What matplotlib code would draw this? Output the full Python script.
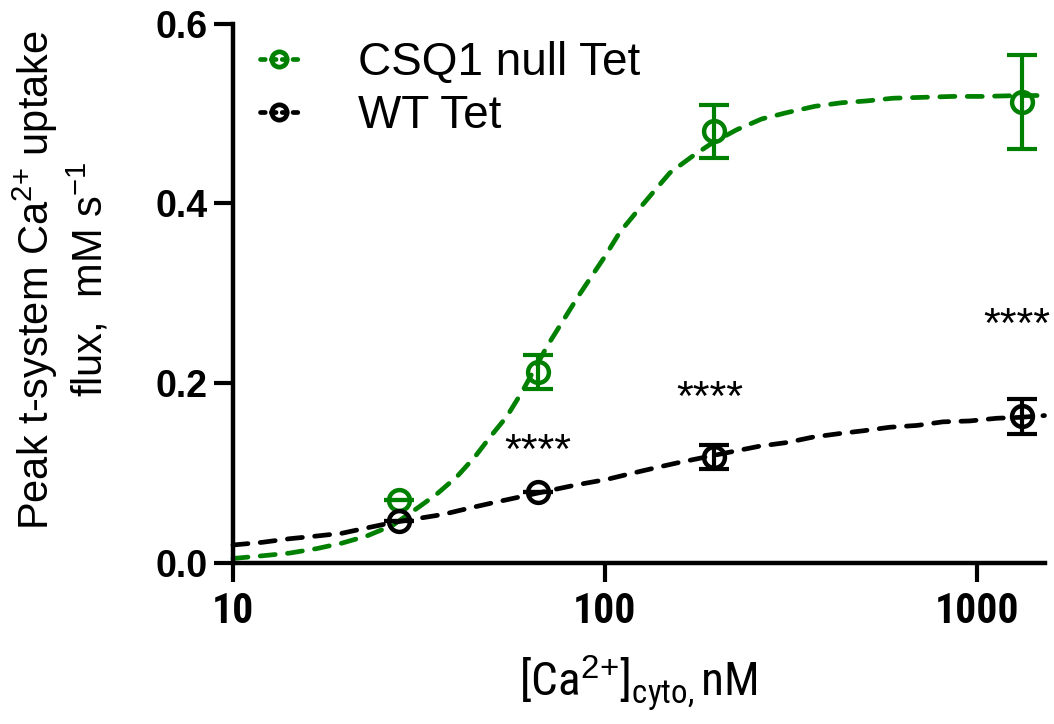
import matplotlib
matplotlib.use("Agg")
import matplotlib.pyplot as plt
from matplotlib.lines import Line2D

plt.rcParams['font.family'] = ['Liberation Sans', 'DejaVu Sans']
plt.rcParams['mathtext.fontset'] = 'custom'
plt.rcParams['mathtext.rm'] = 'Liberation Sans'
plt.rcParams['mathtext.it'] = 'Liberation Sans:italic'
plt.rcParams['mathtext.bf'] = 'Liberation Sans:bold'

# ---- data ----
ca_conc = [28, 66, 197, 1320]
csq_mean = [0.070, 0.212, 0.480, 0.513]
csq_err = [0.0, 0.019, 0.030, 0.052]
wt_mean = [0.047, 0.079, 0.118, 0.163]
wt_err = [0.0, 0.0, 0.013, 0.019]

# fitted curves
csq_fit_x = [10, 12.0, 14.2, 16.8, 19.6, 22.9, 26.9, 31.8, 35.4, 40.0, 44.7, 49.1,
             54.5, 59.8, 69.9, 84.6, 91.1, 100, 109.7, 121.9, 134.6, 149.5, 171.3,
             193.9, 226.3, 264.2, 308.5, 366.8, 433.6, 506, 595, 716, 862, 1038,
             1305, 1520]
csq_fit_y = [0.005, 0.008, 0.011, 0.016, 0.022, 0.030, 0.042, 0.063, 0.077, 0.096,
             0.118, 0.140, 0.163, 0.190, 0.241, 0.296, 0.316, 0.341, 0.368, 0.391,
             0.412, 0.434, 0.452, 0.467, 0.482, 0.494, 0.501, 0.508, 0.512, 0.514,
             0.517, 0.518, 0.519, 0.519, 0.520, 0.520]
wt_fit_x = [10, 12.0, 14.2, 16.8, 19.6, 22.9, 26.9, 36.7, 44.2, 51.3, 69.9, 84.1,
            101.3, 118.9, 140.5, 159.1, 220.8, 261.0, 308.5, 362.3, 428.3, 493.6,
            583.6, 689.9, 810.4, 957.6, 1132, 1305, 1520]
wt_fit_y = [0.020, 0.023, 0.027, 0.030, 0.033, 0.039, 0.045, 0.054, 0.062, 0.068,
            0.080, 0.087, 0.093, 0.100, 0.107, 0.112, 0.124, 0.130, 0.134, 0.140,
            0.144, 0.147, 0.151, 0.153, 0.157, 0.158, 0.161, 0.162, 0.164]

star_x = [66, 191, 1283]
star_y = [0.123, 0.182, 0.264]
star_text = ["****", "****", "****"]

x_ticks = [10, 100, 1000]
x_ticklabels = ["10", "100", "1000"]
y_ticks = [0.0, 0.2, 0.4, 0.6]
y_ticklabels = ["0.0", "0.2", "0.4", "0.6"]

legend_labels = ['CSQ1 null Tet', 'WT Tet']

green = "#008000"
black = "#000000"
narrow = ['Liberation Sans Narrow', 'Arial Narrow', 'Roboto Condensed',
          'Archivo Narrow', 'Liberation Sans']

fig = plt.figure(figsize=(10.54, 7.24), dpi=100)
ax = fig.add_axes([0.221, 0.2224, 0.770, 0.745])

lw = 3.4
dash = (3.2, 2.6)
for fx, fy, c in [(csq_fit_x, csq_fit_y, green), (wt_fit_x, wt_fit_y, black)]:
    ax.plot(fx, fy, color=c, lw=lw, linestyle=(0, dash),
            dash_capstyle='round', zorder=2, clip_on=False)

for y, e, c in [(csq_mean, csq_err, green), (wt_mean, wt_err, black)]:
    ax.errorbar(ca_conc, y, yerr=e, fmt='none', ecolor=c, elinewidth=3,
                capsize=11, capthick=3, zorder=3)
    ax.plot(ca_conc, y, 'o', ms=15, mfc='none', mec=c, mew=3.2, zorder=4,
            linestyle='none')

for sx, sy, st in zip(star_x, star_y, star_text):
    ax.text(sx, sy, st, ha='center', va='center', fontsize=31, color='black')

ax.set_xscale('log')
ax.set_xlim(10, 1520)
ax.set_ylim(0, 0.6)
ax.set_xticks(x_ticks)
ax.set_xticklabels(x_ticklabels, fontsize=30, fontweight='bold', family=narrow)
ax.xaxis.set_minor_locator(matplotlib.ticker.NullLocator())
ax.set_yticks(y_ticks)
ax.set_yticklabels(y_ticklabels, fontsize=27, fontweight='bold')
ax.tick_params(axis='both', which='major', direction='out', length=14, width=3,
               color='black')
ax.tick_params(axis='x', pad=6)
ax.tick_params(axis='y', pad=4)
for side in ['top', 'right']:
    ax.spines[side].set_visible(False)
for side in ['left', 'bottom']:
    ax.spines[side].set_linewidth(3.2)

ax.set_xlabel(r'[Ca$^{2{+}}$]$_{\mathregular{cyto,}}$nM', fontsize=34,
              family=narrow, labelpad=16)
ax.set_ylabel('Peak t-system Ca$^{2{+}}$ uptake\nflux,  mM s$^{-1}$', fontsize=30,
              linespacing=1.15)
ax.yaxis.set_label_coords(-0.150, 0.525)

handles = [
    Line2D([], [], color=green, lw=lw, linestyle=(0, (1.0, 1.3)), marker='o', ms=11,
           mfc='none', mec=green, mew=3.4, dash_capstyle='round'),
    Line2D([], [], color=black, lw=lw, linestyle=(0, (1.0, 1.3)), marker='o', ms=11,
           mfc='none', mec=black, mew=3.4, dash_capstyle='round'),
]
ax.legend(handles, legend_labels, loc='upper left',
          bbox_to_anchor=(-0.018, 1.045), frameon=False, fontsize=33,
          handlelength=0.85, handletextpad=1.3, labelspacing=0.2)

fig.savefig('out.png', dpi=100)
